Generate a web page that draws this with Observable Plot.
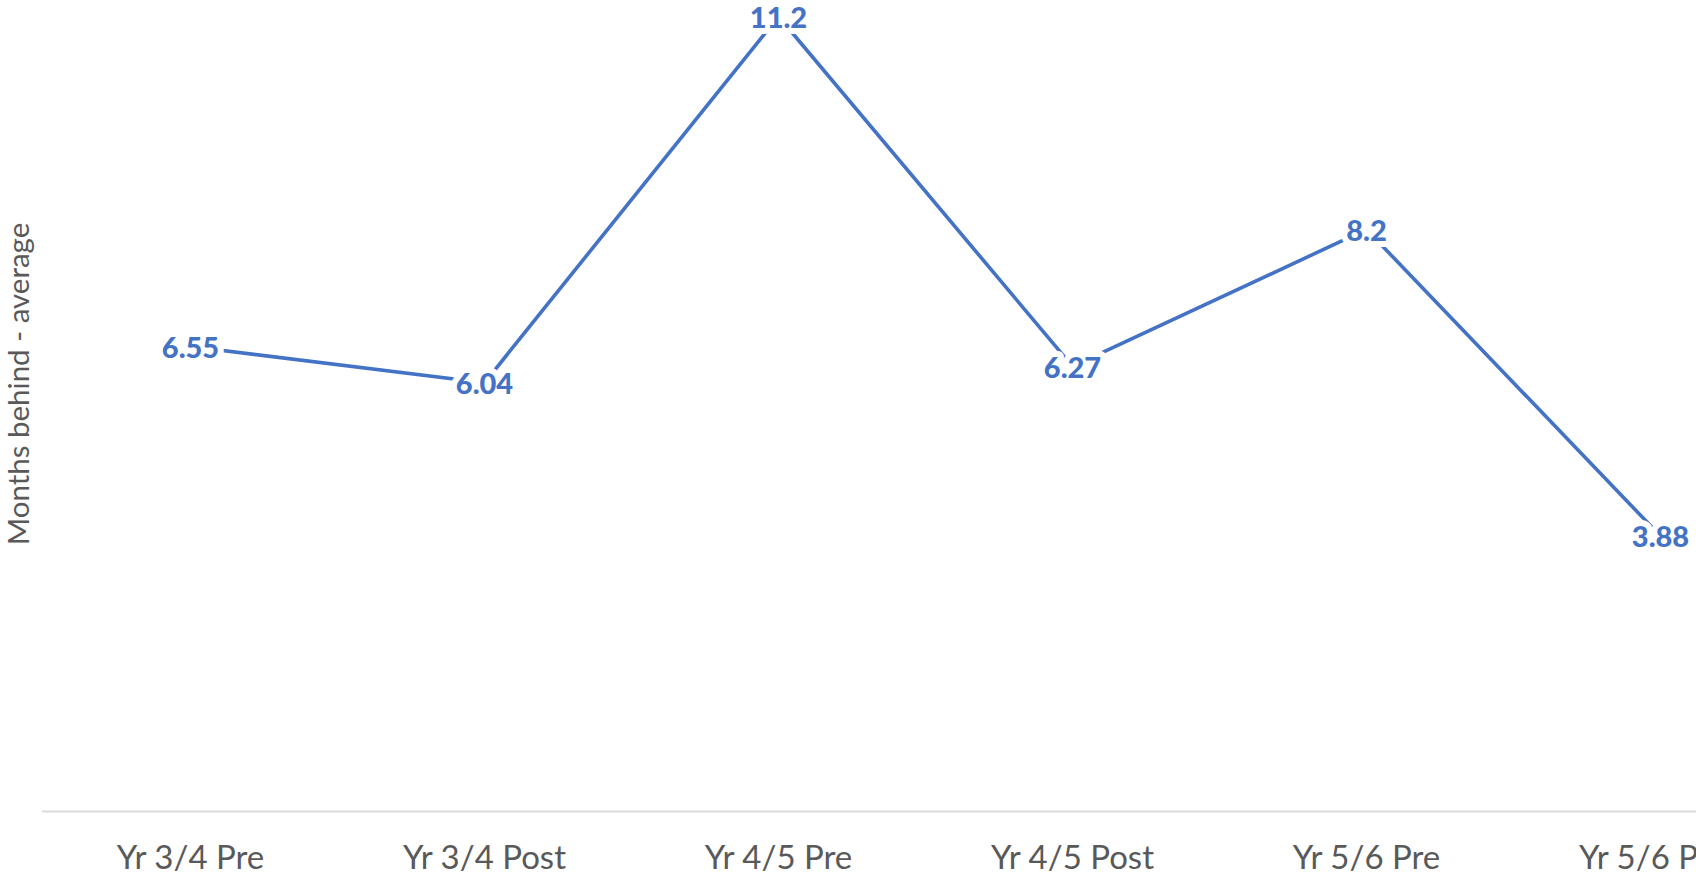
<!DOCTYPE html>
<html>
<head>
<meta charset="utf-8">
<script src="https://cdn.jsdelivr.net/npm/d3@7"></script>
<script src="https://cdn.jsdelivr.net/npm/@observablehq/plot@0.6"></script>
<style>
  html, body { margin: 0; padding: 0; background: #fff; overflow: hidden; }
  #chart { width: 1696px; height: 875px; overflow: hidden; }
</style>
</head>
<body>
<div id="chart"></div>
<script>
const categories = ["Yr 3/4 Pre", "Yr 3/4 Post", "Yr 4/5 Pre", "Yr 4/5 Post", "Yr 5/6 Pre", "Yr 5/6 Post"];
const values = [6.55, 6.04, 11.2, 6.27, 8.2, 3.88];
const valueLabels = ["6.55", "6.04", "11.2", "6.27", "8.2", "3.88"];
const yLabel = "Months behind - average";

const data = categories.map((c, i) => ({cat: c, v: values[i], lab: valueLabels[i]}));

const font = "Lato, Carlito, 'Open Sans', sans-serif";

const chart = Plot.plot({
  width: 1808,
  height: 875,
  marginLeft: 42,
  marginRight: 0,
  marginTop: 16,
  marginBottom: 64,
  style: {fontFamily: font, maxWidth: "none", background: "white", overflow: "visible"},
  x: {type: "point", domain: categories, padding: 0.5, axis: null},
  y: {domain: [0, 11.2], axis: null},
  marks: [
    Plot.ruleY([0], {stroke: "#d9d9d9", strokeWidth: 2}),
    Plot.axisX({tickSize: 0, tickPadding: 34, fontSize: 33, color: "#595959", label: null}),
    Plot.line(data, {x: "cat", y: "v", stroke: "#4472C4", strokeWidth: 3.6}),
    Plot.text(data, {x: "cat", y: "v", text: "lab", fill: "#4472C4", fontSize: 29, fontWeight: 900,
      stroke: "white", strokeWidth: 12, strokeLinejoin: "round", dy: 2}),
    Plot.text([yLabel], {frameAnchor: "left", text: d => d, rotate: -90, textAnchor: "middle",
      dx: -23, dy: -30, fontSize: 29.5, fill: "#595959"})
  ]
});
document.getElementById("chart").appendChild(chart);
</script>
</body>
</html>
